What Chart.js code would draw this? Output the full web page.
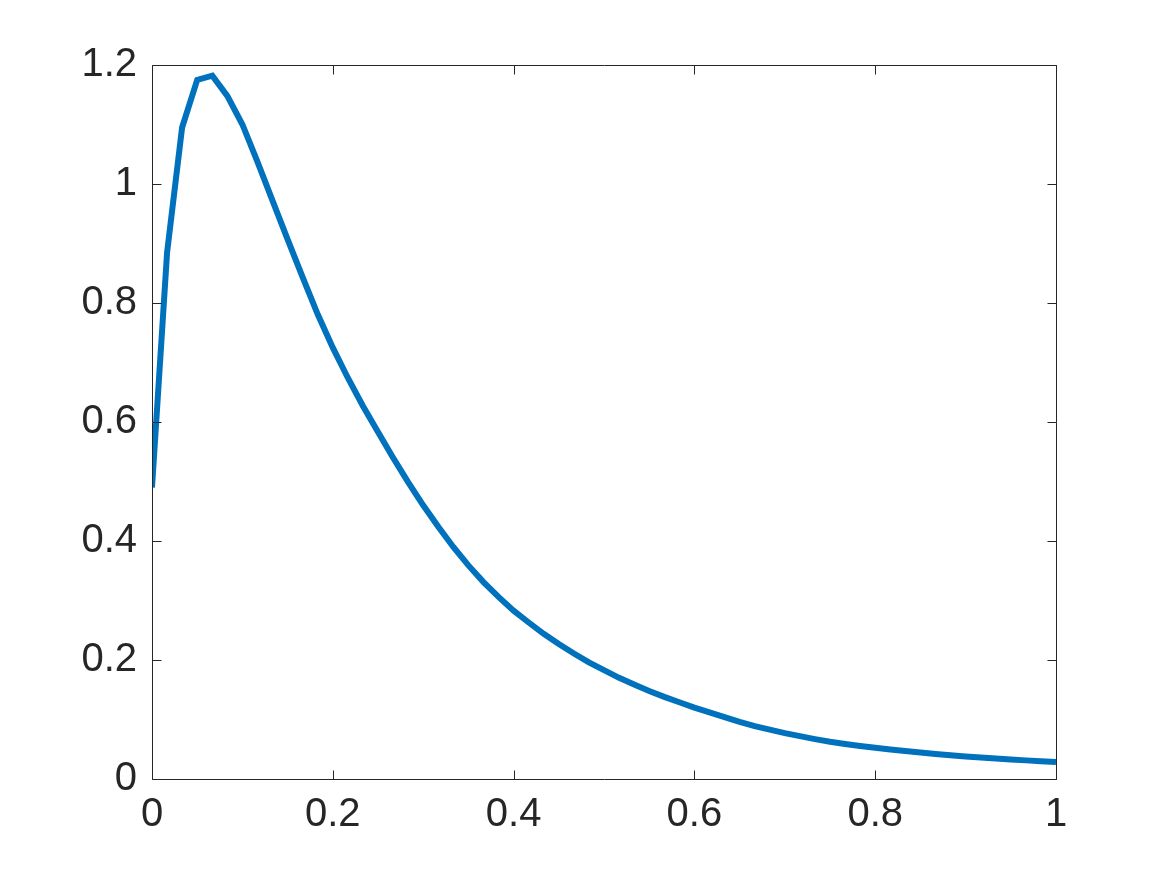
<!DOCTYPE html>
<html>
<head>
<meta charset="utf-8">
<title>curve</title>
<script src="https://cdn.jsdelivr.net/npm/chart.js@4/dist/chart.umd.min.js"></script>
<style>
  html, body { margin: 0; padding: 0; background: #fff; }
  #wrap { width: 1167px; height: 875px; }
</style>
</head>
<body>
<div id="wrap"><canvas id="plot" width="1167" height="875"></canvas></div>
<script>
// values (x every 1/60)
const xValues = [
  0, 0.0167, 0.0333, 0.05, 0.0667, 0.0833, 0.1, 0.1167, 0.1333, 0.15,
  0.1667, 0.1833, 0.2, 0.2167, 0.2333, 0.25, 0.2667, 0.2833, 0.3, 0.3167,
  0.3333, 0.35, 0.3667, 0.3833, 0.4, 0.4167, 0.4333, 0.45, 0.4667, 0.4833,
  0.5, 0.5167, 0.5333, 0.55, 0.5667, 0.5833, 0.6, 0.6167, 0.6333, 0.65,
  0.6667, 0.6833, 0.7, 0.7167, 0.7333, 0.75, 0.7667, 0.7833, 0.8, 0.8167,
  0.8333, 0.85, 0.8667, 0.8833, 0.9, 0.9167, 0.9333, 0.95, 0.9667, 0.9833, 1
];
const yValues = [
  0.49, 0.885, 1.095, 1.175, 1.182, 1.148, 1.10, 1.037, 0.972, 0.907,
  0.843, 0.781, 0.725, 0.674, 0.627, 0.583, 0.540, 0.499, 0.460, 0.424,
  0.390, 0.359, 0.331, 0.306, 0.283, 0.263, 0.244, 0.227, 0.211, 0.196,
  0.183, 0.170, 0.159, 0.148, 0.138, 0.129, 0.120, 0.112, 0.104, 0.096,
  0.089, 0.083, 0.077, 0.072, 0.067, 0.0625, 0.0588, 0.0555, 0.0525, 0.0497,
  0.047, 0.0445, 0.0422, 0.040, 0.038, 0.0362, 0.0345, 0.0328, 0.0313, 0.0299, 0.0285
];
const xTicks = [0, 0.2, 0.4, 0.6, 0.8, 1];
const yTicks = [0, 0.2, 0.4, 0.6, 0.8, 1, 1.2];

const axisColor = '#262626';
const lineColor = '#0072BD';
const tickLen = 9;

const points = xValues.map((x, i) => ({ x: x, y: yValues[i] }));

// matlab style box with inward ticks on all four sides
const boxTicks = {
  id: 'boxTicks',
  afterDatasetsDraw(chart) {
    const { ctx, chartArea: a, scales } = chart;
    const L = Math.round(a.left) + 0.5, R = Math.round(a.right) + 0.5;
    const T = Math.round(a.top) + 0.5, B = Math.round(a.bottom) + 0.5;
    ctx.save();
    ctx.strokeStyle = axisColor;
    ctx.lineWidth = 1;
    ctx.beginPath();
    ctx.rect(L, T, R - L, B - T);
    xTicks.forEach(v => {
      const px = Math.round(scales.x.getPixelForValue(v)) + 0.5;
      ctx.moveTo(px, B); ctx.lineTo(px, B - tickLen);
      ctx.moveTo(px, T); ctx.lineTo(px, T + tickLen);
    });
    yTicks.forEach(v => {
      const py = Math.round(scales.y.getPixelForValue(v)) + 0.5;
      ctx.moveTo(L, py); ctx.lineTo(L + tickLen, py);
      ctx.moveTo(R, py); ctx.lineTo(R - tickLen, py);
    });
    ctx.stroke();
    ctx.restore();
  }
};

const fmt = v => String(Number(v.toFixed(1)));
const tickFont = { family: '"Liberation Sans", Arial, Helvetica, sans-serif', size: 40 };

new Chart(document.getElementById('plot'), {
  type: 'line',
  data: {
    datasets: [{
      data: points,
      borderColor: lineColor,
      borderWidth: 6,
      pointRadius: 0,
      tension: 0,
      fill: false
    }]
  },
  options: {
    responsive: false,
    animation: false,
    devicePixelRatio: 1,
    layout: { padding: { top: 65, right: 111, left: 0, bottom: 0 } },
    plugins: { legend: { display: false }, tooltip: { enabled: false } },
    scales: {
      x: {
        type: 'linear', min: 0, max: 1,
        border: { display: false },
        grid: { display: false, drawTicks: false },
        afterBuildTicks: s => { s.ticks = xTicks.map(v => ({ value: v })); },
        afterFit: s => { s.height = 875 - 779; },
        ticks: { callback: fmt, color: axisColor, font: tickFont, padding: 12, maxRotation: 0, autoSkip: false }
      },
      y: {
        type: 'linear', min: 0, max: 1.2,
        border: { display: false },
        grid: { display: false, drawTicks: false },
        afterBuildTicks: s => { s.ticks = yTicks.map(v => ({ value: v })); },
        afterFit: s => { s.width = 152; },
        ticks: { callback: fmt, color: axisColor, font: tickFont, padding: 15, autoSkip: false }
      }
    }
  },
  plugins: [boxTicks]
});
</script>
</body>
</html>
